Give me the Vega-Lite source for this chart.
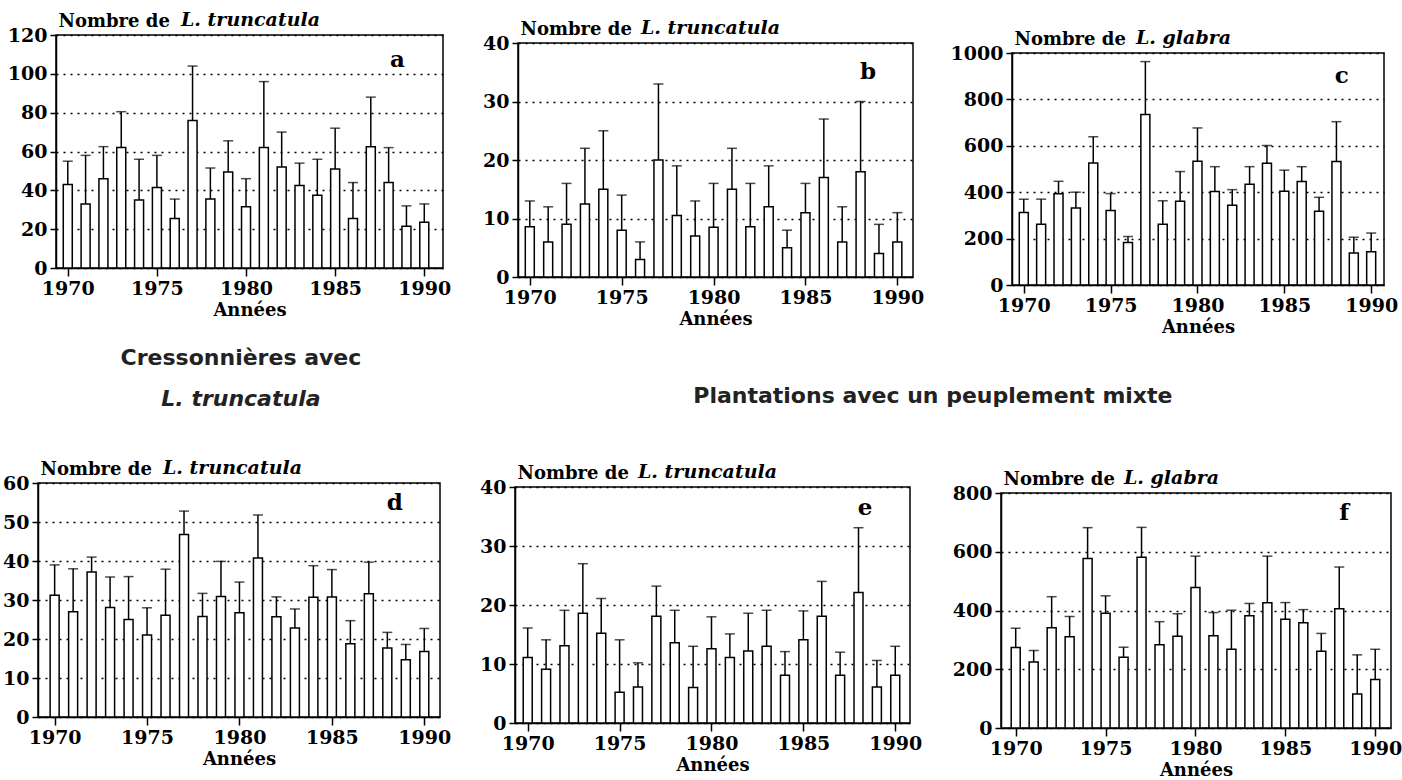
{
  "$schema": "https://vega.github.io/schema/vega-lite/v6.json",
  "padding": {"left": 0, "top": 9, "right": 0, "bottom": 0},
  "background": "white",
  "spacing": 0,
  "datasets": {
    "a": [
      {"year": 1970, "mean": 43, "upper": 55}, {"year": 1971, "mean": 33, "upper": 58}, {"year": 1972, "mean": 46, "upper": 62.5},
      {"year": 1973, "mean": 62, "upper": 80.5}, {"year": 1974, "mean": 35, "upper": 56}, {"year": 1975, "mean": 41.5, "upper": 58},
      {"year": 1976, "mean": 25.5, "upper": 35.5}, {"year": 1977, "mean": 76, "upper": 104}, {"year": 1978, "mean": 35.5, "upper": 51.5},
      {"year": 1979, "mean": 49.5, "upper": 65.5}, {"year": 1980, "mean": 31.5, "upper": 46}, {"year": 1981, "mean": 62, "upper": 96},
      {"year": 1982, "mean": 52, "upper": 70}, {"year": 1983, "mean": 42.5, "upper": 54}, {"year": 1984, "mean": 37.5, "upper": 56},
      {"year": 1985, "mean": 51, "upper": 72}, {"year": 1986, "mean": 25.5, "upper": 44}, {"year": 1987, "mean": 62.5, "upper": 88},
      {"year": 1988, "mean": 44, "upper": 62}, {"year": 1989, "mean": 21.5, "upper": 32}, {"year": 1990, "mean": 23.5, "upper": 33}
    ],
    "b": [
      {"year": 1970, "mean": 8.6, "upper": 13}, {"year": 1971, "mean": 6, "upper": 12}, {"year": 1972, "mean": 9, "upper": 16},
      {"year": 1973, "mean": 12.5, "upper": 22}, {"year": 1974, "mean": 15, "upper": 25}, {"year": 1975, "mean": 8, "upper": 14},
      {"year": 1976, "mean": 3, "upper": 6}, {"year": 1977, "mean": 20, "upper": 33}, {"year": 1978, "mean": 10.5, "upper": 19},
      {"year": 1979, "mean": 7, "upper": 13}, {"year": 1980, "mean": 8.5, "upper": 16}, {"year": 1981, "mean": 15, "upper": 22},
      {"year": 1982, "mean": 8.6, "upper": 16}, {"year": 1983, "mean": 12, "upper": 19}, {"year": 1984, "mean": 5, "upper": 8},
      {"year": 1985, "mean": 11, "upper": 16}, {"year": 1986, "mean": 17, "upper": 27}, {"year": 1987, "mean": 6, "upper": 12},
      {"year": 1988, "mean": 18, "upper": 30}, {"year": 1989, "mean": 4, "upper": 9}, {"year": 1990, "mean": 6, "upper": 11}
    ],
    "c": [
      {"year": 1970, "mean": 312, "upper": 370}, {"year": 1971, "mean": 262, "upper": 370}, {"year": 1972, "mean": 393, "upper": 447},
      {"year": 1973, "mean": 332, "upper": 400}, {"year": 1974, "mean": 526, "upper": 639}, {"year": 1975, "mean": 321, "upper": 394},
      {"year": 1976, "mean": 183, "upper": 209}, {"year": 1977, "mean": 735, "upper": 963}, {"year": 1978, "mean": 262, "upper": 363},
      {"year": 1979, "mean": 361, "upper": 489}, {"year": 1980, "mean": 533, "upper": 677}, {"year": 1981, "mean": 403, "upper": 510},
      {"year": 1982, "mean": 344, "upper": 411}, {"year": 1983, "mean": 434, "upper": 510}, {"year": 1984, "mean": 525, "upper": 601},
      {"year": 1985, "mean": 404, "upper": 495}, {"year": 1986, "mean": 446, "upper": 510}, {"year": 1987, "mean": 318, "upper": 378},
      {"year": 1988, "mean": 532, "upper": 704}, {"year": 1989, "mean": 138, "upper": 206}, {"year": 1990, "mean": 143, "upper": 224}
    ],
    "d": [
      {"year": 1970, "mean": 31.2, "upper": 39}, {"year": 1971, "mean": 27, "upper": 38}, {"year": 1972, "mean": 37.2, "upper": 41},
      {"year": 1973, "mean": 28.1, "upper": 35.9}, {"year": 1974, "mean": 25, "upper": 36}, {"year": 1975, "mean": 21, "upper": 28},
      {"year": 1976, "mean": 26.1, "upper": 37.9}, {"year": 1977, "mean": 46.8, "upper": 52.8}, {"year": 1978, "mean": 25.8, "upper": 31.7},
      {"year": 1979, "mean": 30.9, "upper": 39.9}, {"year": 1980, "mean": 26.7, "upper": 34.6}, {"year": 1981, "mean": 40.8, "upper": 51.8},
      {"year": 1982, "mean": 25.7, "upper": 30.8}, {"year": 1983, "mean": 22.8, "upper": 27.7}, {"year": 1984, "mean": 30.7, "upper": 38.8},
      {"year": 1985, "mean": 30.8, "upper": 37.8}, {"year": 1986, "mean": 18.8, "upper": 24.7}, {"year": 1987, "mean": 31.6, "upper": 39.7},
      {"year": 1988, "mean": 17.7, "upper": 21.7}, {"year": 1989, "mean": 14.7, "upper": 18.6}, {"year": 1990, "mean": 16.8, "upper": 22.7}
    ],
    "e": [
      {"year": 1970, "mean": 11.1, "upper": 16.1}, {"year": 1971, "mean": 9.1, "upper": 14.1}, {"year": 1972, "mean": 13.1, "upper": 19.1},
      {"year": 1973, "mean": 18.6, "upper": 27}, {"year": 1974, "mean": 15.2, "upper": 21.1}, {"year": 1975, "mean": 5.2, "upper": 14.1},
      {"year": 1976, "mean": 6.1, "upper": 10.2}, {"year": 1977, "mean": 18.1, "upper": 23.2}, {"year": 1978, "mean": 13.6, "upper": 19.1},
      {"year": 1979, "mean": 6, "upper": 13}, {"year": 1980, "mean": 12.6, "upper": 18}, {"year": 1981, "mean": 11.1, "upper": 15.1},
      {"year": 1982, "mean": 12.2, "upper": 18.6}, {"year": 1983, "mean": 13, "upper": 19.1}, {"year": 1984, "mean": 8.1, "upper": 12.1},
      {"year": 1985, "mean": 14.1, "upper": 19}, {"year": 1986, "mean": 18.1, "upper": 24}, {"year": 1987, "mean": 8.1, "upper": 12},
      {"year": 1988, "mean": 22.1, "upper": 33.1}, {"year": 1989, "mean": 6.1, "upper": 10.6}, {"year": 1990, "mean": 8.1, "upper": 13}
    ],
    "f": [
      {"year": 1970, "mean": 274, "upper": 340}, {"year": 1971, "mean": 225, "upper": 264}, {"year": 1972, "mean": 341, "upper": 447},
      {"year": 1973, "mean": 311, "upper": 380}, {"year": 1974, "mean": 577, "upper": 682}, {"year": 1975, "mean": 391, "upper": 450},
      {"year": 1976, "mean": 241, "upper": 275}, {"year": 1977, "mean": 581, "upper": 683}, {"year": 1978, "mean": 283, "upper": 362},
      {"year": 1979, "mean": 312, "upper": 389}, {"year": 1980, "mean": 478, "upper": 585}, {"year": 1981, "mean": 314, "upper": 393},
      {"year": 1982, "mean": 268, "upper": 401}, {"year": 1983, "mean": 382, "upper": 424}, {"year": 1984, "mean": 426, "upper": 585},
      {"year": 1985, "mean": 370, "upper": 427}, {"year": 1986, "mean": 358, "upper": 403}, {"year": 1987, "mean": 261, "upper": 322},
      {"year": 1988, "mean": 406, "upper": 548}, {"year": 1989, "mean": 116, "upper": 249}, {"year": 1990, "mean": 165, "upper": 268}
    ]
  },
  "vconcat": [
    {
      "spacing": 0,
      "hconcat": [
        {"width": 6, "height": 1, "view": {"stroke": null}, "data": {"values": [{}]}, "mark": {"type": "point", "opacity": 0, "size": 1}},
        {
          "spacing": 0,
          "vconcat": [
            {"width": 1, "height": 1, "view": {"stroke": null}, "data": {"values": [{}]}, "mark": {"type": "point", "opacity": 0, "size": 1}},
            {
              "width": 387, "height": 233,
              "layer": [
                {"data": {"name": "a"}, "mark": {"type": "bar", "fill": "white", "stroke": "black", "strokeWidth": 1.5, "size": 9},
                 "encoding": {
                   "x": {"field": "year", "type": "quantitative", "scale": {"domain": [1969.62, 1990.77], "nice": false, "zero": false},
                         "axis": {"values": [1970, 1975, 1980, 1985, 1990], "format": "d", "title": "Années"}},
                   "y": {"field": "mean", "type": "quantitative", "scale": {"domain": [0, 120], "nice": false},
                         "axis": {"values": [0, 20, 40, 60, 80, 100, 120], "format": "d", "title": "Nombre de"}}}},
                {"data": {"name": "a"}, "mark": {"type": "rule", "strokeWidth": 1.5, "color": "black"},
                 "encoding": {"x": {"field": "year", "type": "quantitative"}, "y": {"field": "mean", "type": "quantitative"}, "y2": {"field": "upper"}}},
                {"data": {"name": "a"}, "mark": {"type": "tick", "orient": "horizontal", "size": 10, "thickness": 1.5, "color": "black"},
                 "encoding": {"x": {"field": "year", "type": "quantitative"}, "y": {"field": "upper", "type": "quantitative"}}},
                {"data": {"values": [{}]}, "mark": {"type": "text", "text": "L. truncatula", "fontSize": 19, "fontStyle": "italic", "align": "left", "baseline": "alphabetic", "dx": 120, "dy": -9},
                 "encoding": {"x": {"datum": 1969.62}, "y": {"datum": 120}}},
                {"data": {"values": [{}]}, "mark": {"type": "text", "text": "a", "fontSize": 23, "align": "center", "baseline": "middle"},
                 "encoding": {"x": {"datum": 1988.5}, "y": {"datum": 107}}}
              ]
            }
          ]
        },
        {"width": 29, "height": 1, "view": {"stroke": null}, "data": {"values": [{}]}, "mark": {"type": "point", "opacity": 0, "size": 1}},
        {
          "spacing": 0,
          "vconcat": [
            {"width": 1, "height": 9, "view": {"stroke": null}, "data": {"values": [{}]}, "mark": {"type": "point", "opacity": 0, "size": 1}},
            {
              "width": 395, "height": 234,
              "layer": [
                {"data": {"name": "b"}, "mark": {"type": "bar", "fill": "white", "stroke": "black", "strokeWidth": 1.5, "size": 9},
                 "encoding": {
                   "x": {"field": "year", "type": "quantitative", "scale": {"domain": [1969.63, 1990.58], "nice": false, "zero": false},
                         "axis": {"values": [1970, 1975, 1980, 1985, 1990], "format": "d", "title": "Années"}},
                   "y": {"field": "mean", "type": "quantitative", "scale": {"domain": [0, 40], "nice": false},
                         "axis": {"values": [0, 10, 20, 30, 40], "format": "d", "title": "Nombre de"}}}},
                {"data": {"name": "b"}, "mark": {"type": "rule", "strokeWidth": 1.5, "color": "black"},
                 "encoding": {"x": {"field": "year", "type": "quantitative"}, "y": {"field": "mean", "type": "quantitative"}, "y2": {"field": "upper"}}},
                {"data": {"name": "b"}, "mark": {"type": "tick", "orient": "horizontal", "size": 10, "thickness": 1.5, "color": "black"},
                 "encoding": {"x": {"field": "year", "type": "quantitative"}, "y": {"field": "upper", "type": "quantitative"}}},
                {"data": {"values": [{}]}, "mark": {"type": "text", "text": "L. truncatula", "fontSize": 19, "fontStyle": "italic", "align": "left", "baseline": "alphabetic", "dx": 118, "dy": -9},
                 "encoding": {"x": {"datum": 1969.63}, "y": {"datum": 40}}},
                {"data": {"values": [{}]}, "mark": {"type": "text", "text": "b", "fontSize": 23, "align": "center", "baseline": "middle"},
                 "encoding": {"x": {"datum": 1988.4}, "y": {"datum": 35}}}
              ]
            }
          ]
        },
        {"width": 24, "height": 1, "view": {"stroke": null}, "data": {"values": [{}]}, "mark": {"type": "point", "opacity": 0, "size": 1}},
        {
          "spacing": 0,
          "vconcat": [
            {"width": 1, "height": 19, "view": {"stroke": null}, "data": {"values": [{}]}, "mark": {"type": "point", "opacity": 0, "size": 1}},
            {
              "width": 372, "height": 232,
              "layer": [
                {"data": {"name": "c"}, "mark": {"type": "bar", "fill": "white", "stroke": "black", "strokeWidth": 1.5, "size": 9},
                 "encoding": {
                   "x": {"field": "year", "type": "quantitative", "scale": {"domain": [1969.61, 1990.45], "nice": false, "zero": false},
                         "axis": {"values": [1970, 1975, 1980, 1985, 1990], "format": "d", "title": "Années"}},
                   "y": {"field": "mean", "type": "quantitative", "scale": {"domain": [0, 1000], "nice": false},
                         "axis": {"values": [0, 200, 400, 600, 800, 1000], "format": "d", "title": "Nombre de"}}}},
                {"data": {"name": "c"}, "mark": {"type": "rule", "strokeWidth": 1.5, "color": "black"},
                 "encoding": {"x": {"field": "year", "type": "quantitative"}, "y": {"field": "mean", "type": "quantitative"}, "y2": {"field": "upper"}}},
                {"data": {"name": "c"}, "mark": {"type": "tick", "orient": "horizontal", "size": 10, "thickness": 1.5, "color": "black"},
                 "encoding": {"x": {"field": "year", "type": "quantitative"}, "y": {"field": "upper", "type": "quantitative"}}},
                {"data": {"values": [{}]}, "mark": {"type": "text", "text": "L. glabra", "fontSize": 19, "fontStyle": "italic", "align": "left", "baseline": "alphabetic", "dx": 119, "dy": -9},
                 "encoding": {"x": {"datum": 1969.61}, "y": {"datum": 1000}}},
                {"data": {"values": [{}]}, "mark": {"type": "text", "text": "c", "fontSize": 23, "align": "center", "baseline": "middle"},
                 "encoding": {"x": {"datum": 1988.3}, "y": {"datum": 900}}}
              ]
            }
          ]
        }
      ]
    },
    {
      "width": 1380, "height": 120,
      "view": {"stroke": null},
      "data": {"values": [{}]},
      "layer": [
        {"mark": {"type": "text", "text": "Cressonnières avec", "font": "DejaVu Sans", "fontSize": 22, "fontWeight": "bold", "fontStyle": "normal", "color": "#222"},
         "encoding": {"x": {"datum": 0.1746, "type": "quantitative", "scale": {"domain": [0, 1]}, "axis": null},
                      "y": {"datum": 0.825, "type": "quantitative", "scale": {"domain": [0, 1]}, "axis": null}}},
        {"mark": {"type": "text", "text": "L. truncatula", "font": "DejaVu Sans", "fontSize": 22, "fontWeight": "bold", "fontStyle": "italic", "color": "#222"},
         "encoding": {"x": {"datum": 0.1746, "type": "quantitative"}, "y": {"datum": 0.483, "type": "quantitative"}}},
        {"mark": {"type": "text", "text": "Plantations avec un peuplement mixte", "font": "DejaVu Sans", "fontSize": 22, "fontWeight": "bold", "fontStyle": "normal", "color": "#222"},
         "encoding": {"x": {"datum": 0.676, "type": "quantitative"}, "y": {"datum": 0.508, "type": "quantitative"}}}
      ]
    },
    {
      "spacing": 0,
      "hconcat": [
        {"width": 1, "height": 1, "view": {"stroke": null}, "data": {"values": [{}]}, "mark": {"type": "point", "opacity": 0, "size": 1}},
        {
          "spacing": 0,
          "vconcat": [
            {"width": 1, "height": 1, "view": {"stroke": null}, "data": {"values": [{}]}, "mark": {"type": "point", "opacity": 0, "size": 1}},
            {
              "width": 402, "height": 234,
              "layer": [
                {"data": {"name": "d"}, "mark": {"type": "bar", "fill": "white", "stroke": "black", "strokeWidth": 1.5, "size": 9},
                 "encoding": {
                   "x": {"field": "year", "type": "quantitative", "scale": {"domain": [1969.37, 1990.58], "nice": false, "zero": false},
                         "axis": {"values": [1970, 1975, 1980, 1985, 1990], "format": "d", "title": "Années"}},
                   "y": {"field": "mean", "type": "quantitative", "scale": {"domain": [0, 60], "nice": false},
                         "axis": {"values": [0, 10, 20, 30, 40, 50, 60], "format": "d", "title": "Nombre de"}}}},
                {"data": {"name": "d"}, "mark": {"type": "rule", "strokeWidth": 1.5, "color": "black"},
                 "encoding": {"x": {"field": "year", "type": "quantitative"}, "y": {"field": "mean", "type": "quantitative"}, "y2": {"field": "upper"}}},
                {"data": {"name": "d"}, "mark": {"type": "tick", "orient": "horizontal", "size": 10, "thickness": 1.5, "color": "black"},
                 "encoding": {"x": {"field": "year", "type": "quantitative"}, "y": {"field": "upper", "type": "quantitative"}}},
                {"data": {"values": [{}]}, "mark": {"type": "text", "text": "L. truncatula", "fontSize": 19, "fontStyle": "italic", "align": "left", "baseline": "alphabetic", "dx": 120, "dy": -9},
                 "encoding": {"x": {"datum": 1969.37}, "y": {"datum": 60}}},
                {"data": {"values": [{}]}, "mark": {"type": "text", "text": "d", "fontSize": 23, "align": "center", "baseline": "middle"},
                 "encoding": {"x": {"datum": 1988.4}, "y": {"datum": 54.9}}}
              ]
            }
          ]
        },
        {"width": 26, "height": 1, "view": {"stroke": null}, "data": {"values": [{}]}, "mark": {"type": "point", "opacity": 0, "size": 1}},
        {
          "spacing": 0,
          "vconcat": [
            {"width": 1, "height": 5, "view": {"stroke": null}, "data": {"values": [{}]}, "mark": {"type": "point", "opacity": 0, "size": 1}},
            {
              "width": 395, "height": 236,
              "layer": [
                {"data": {"name": "e"}, "mark": {"type": "bar", "fill": "white", "stroke": "black", "strokeWidth": 1.5, "size": 9},
                 "encoding": {
                   "x": {"field": "year", "type": "quantitative", "scale": {"domain": [1969.58, 1990.53], "nice": false, "zero": false},
                         "axis": {"values": [1970, 1975, 1980, 1985, 1990], "format": "d", "title": "Années"}},
                   "y": {"field": "mean", "type": "quantitative", "scale": {"domain": [0, 40], "nice": false},
                         "axis": {"values": [0, 10, 20, 30, 40], "format": "d", "title": "Nombre de"}}}},
                {"data": {"name": "e"}, "mark": {"type": "rule", "strokeWidth": 1.5, "color": "black"},
                 "encoding": {"x": {"field": "year", "type": "quantitative"}, "y": {"field": "mean", "type": "quantitative"}, "y2": {"field": "upper"}}},
                {"data": {"name": "e"}, "mark": {"type": "tick", "orient": "horizontal", "size": 10, "thickness": 1.5, "color": "black"},
                 "encoding": {"x": {"field": "year", "type": "quantitative"}, "y": {"field": "upper", "type": "quantitative"}}},
                {"data": {"values": [{}]}, "mark": {"type": "text", "text": "L. truncatula", "fontSize": 19, "fontStyle": "italic", "align": "left", "baseline": "alphabetic", "dx": 118, "dy": -9},
                 "encoding": {"x": {"datum": 1969.58}, "y": {"datum": 40}}},
                {"data": {"values": [{}]}, "mark": {"type": "text", "text": "e", "fontSize": 23, "align": "center", "baseline": "middle"},
                 "encoding": {"x": {"datum": 1988.36}, "y": {"datum": 36.4}}}
              ]
            }
          ]
        },
        {"width": 28, "height": 1, "view": {"stroke": null}, "data": {"values": [{}]}, "mark": {"type": "point", "opacity": 0, "size": 1}},
        {
          "spacing": 0,
          "vconcat": [
            {"width": 1, "height": 11, "view": {"stroke": null}, "data": {"values": [{}]}, "mark": {"type": "point", "opacity": 0, "size": 1}},
            {
              "width": 390, "height": 235,
              "layer": [
                {"data": {"name": "f"}, "mark": {"type": "bar", "fill": "white", "stroke": "black", "strokeWidth": 1.5, "size": 9},
                 "encoding": {
                   "x": {"field": "year", "type": "quantitative", "scale": {"domain": [1969.46, 1990.6], "nice": false, "zero": false},
                         "axis": {"values": [1970, 1975, 1980, 1985, 1990], "format": "d", "title": "Années"}},
                   "y": {"field": "mean", "type": "quantitative", "scale": {"domain": [0, 800], "nice": false},
                         "axis": {"values": [0, 200, 400, 600, 800], "format": "d", "title": "Nombre de"}}}},
                {"data": {"name": "f"}, "mark": {"type": "rule", "strokeWidth": 1.5, "color": "black"},
                 "encoding": {"x": {"field": "year", "type": "quantitative"}, "y": {"field": "mean", "type": "quantitative"}, "y2": {"field": "upper"}}},
                {"data": {"name": "f"}, "mark": {"type": "tick", "orient": "horizontal", "size": 10, "thickness": 1.5, "color": "black"},
                 "encoding": {"x": {"field": "year", "type": "quantitative"}, "y": {"field": "upper", "type": "quantitative"}}},
                {"data": {"values": [{}]}, "mark": {"type": "text", "text": "L. glabra", "fontSize": 19, "fontStyle": "italic", "align": "left", "baseline": "alphabetic", "dx": 118, "dy": -9},
                 "encoding": {"x": {"datum": 1969.46}, "y": {"datum": 800}}},
                {"data": {"values": [{}]}, "mark": {"type": "text", "text": "f", "fontSize": 23, "align": "center", "baseline": "middle"},
                 "encoding": {"x": {"datum": 1988.27}, "y": {"datum": 732}}}
              ]
            }
          ]
        }
      ]
    }
  ],
  "config": {
    "font": "DejaVu Serif",
    "view": {"stroke": "black", "strokeWidth": 1.5},
    "axis": {
      "labelFont": "DejaVu Serif", "labelFontSize": 19, "labelFontWeight": "bold", "labelColor": "black",
      "titleFont": "DejaVu Serif", "titleFontSize": 18, "titleFontWeight": "bold", "titleColor": "black",
      "tickColor": "black", "tickWidth": 1.5, "domainColor": "black", "domainWidth": 1.5,
      "labelFlush": false, "labelOverlap": false, "tickCount": 30
    },
    "axisX": {"grid": false, "tickSize": 8, "labelPadding": 3, "titlePadding": 3},
    "axisY": {"grid": true, "gridColor": "black", "gridDash": [2, 5], "gridWidth": 1.5, "tickSize": 6, "labelPadding": 3,
              "titleAngle": 0, "titleAlign": "left", "titleBaseline": "alphabetic", "titleX": 2, "titleY": -9},
    "text": {"font": "DejaVu Serif", "fontWeight": "bold", "color": "black"}
  }
}
